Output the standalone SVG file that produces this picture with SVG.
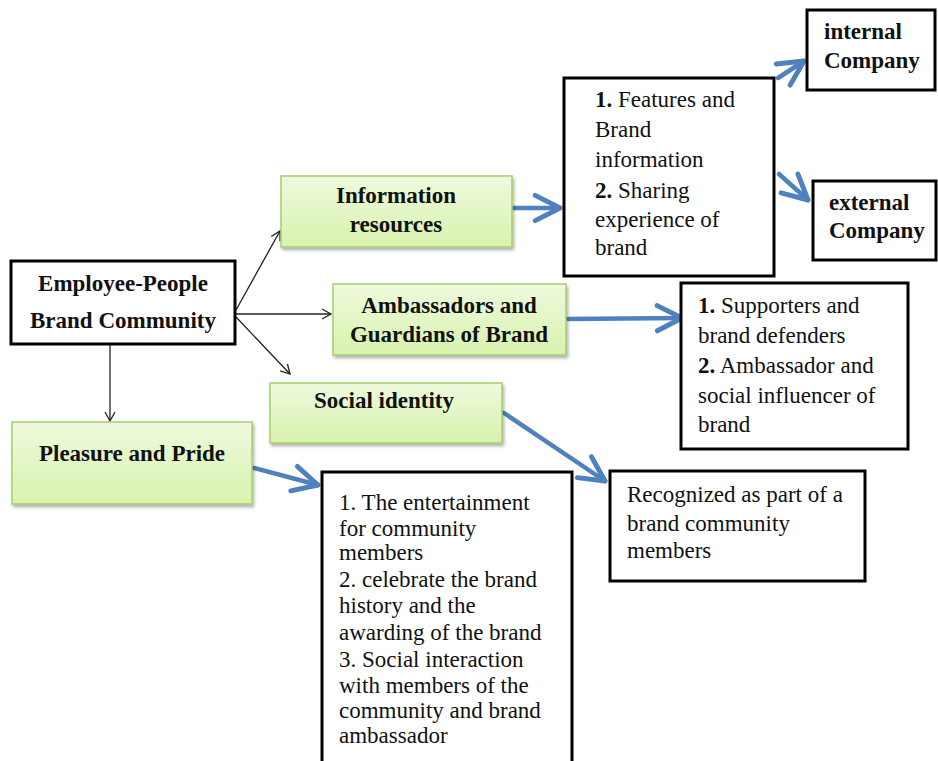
<svg xmlns="http://www.w3.org/2000/svg" width="938" height="761" viewBox="0 0 938 761">
<defs>
<linearGradient id="g" x1="0" y1="0" x2="0" y2="1">
<stop offset="0" stop-color="#eefadc"/>
<stop offset="1" stop-color="#d8f2ae"/>
</linearGradient>
<marker id="ah" markerWidth="12" markerHeight="12" refX="10" refY="6" orient="auto" markerUnits="userSpaceOnUse">
<path d="M1,1 L10,6 L1,11" fill="none" stroke="#222" stroke-width="1.3"/>
</marker>
<marker id="bh" markerWidth="8" markerHeight="8" refX="6.5" refY="4" orient="auto" markerUnits="strokeWidth">
<path d="M1,1.2 L6.5,4 L1,6.8" fill="none" stroke="#4f81bd" stroke-width="1.1" stroke-linecap="round" stroke-linejoin="round"/>
</marker>
<filter id="sh" x="-10%" y="-10%" width="120%" height="130%">
<feDropShadow dx="1.5" dy="2.5" stdDeviation="1.5" flood-color="#000" flood-opacity="0.3"/>
</filter>
</defs>
<style>
.gb{fill:url(#g);stroke:#a6cd6c;stroke-width:1.5;filter:url(#sh)}
.wb{fill:#fff;stroke:#000;stroke-width:3}
.t{font-family:"Liberation Serif","Times New Roman",serif;font-size:23px;fill:#111}
.b{font-weight:bold}
.c{text-anchor:middle}
.k{stroke:#222;stroke-width:1.3;fill:none;marker-end:url(#ah)}
.bl{stroke:#4f81bd;stroke-width:4.5;fill:none;marker-end:url(#bh);stroke-linecap:round}
</style>
<g id="connectors">
<line class="k" x1="236" y1="310" x2="280" y2="231"/>
<line class="k" x1="236" y1="314" x2="331" y2="314"/>
<line class="k" x1="236" y1="317" x2="290" y2="374"/>
<line class="k" x1="110" y1="345" x2="110" y2="421"/>
<line class="bl" x1="514" y1="208" x2="560" y2="208"/>
<line class="bl" x1="778" y1="78" x2="804" y2="61"/>
<line class="bl" x1="779" y1="174" x2="808" y2="200"/>
<line class="bl" x1="568" y1="319" x2="682" y2="318"/>
<line class="bl" x1="504" y1="413" x2="605" y2="481"/>
<line class="bl" x1="254" y1="468" x2="318" y2="485"/>
</g>
<g id="employee">
<rect class="wb" x="11" y="261" width="224" height="83"/>
<text class="t b c" x="123" y="291">Employee-People</text>
<text class="t b c" x="123" y="328">Brand Community</text>
</g>
<g id="pleasure">
<rect class="gb" x="12" y="422" width="240" height="82"/>
<text class="t b c" x="132" y="461">Pleasure and Pride</text>
</g>
<g id="info">
<rect class="gb" x="281" y="176" width="231" height="71"/>
<text class="t b c" x="396" y="203">Information</text>
<text class="t b c" x="396" y="232">resources</text>
</g>
<g id="ambassadors">
<rect class="gb" x="333" y="284" width="233" height="71"/>
<text class="t b c" x="449" y="313">Ambassadors and</text>
<text class="t b c" x="449" y="342">Guardians of Brand</text>
</g>
<g id="social">
<rect class="gb" x="270" y="383" width="232" height="60"/>
<text class="t b c" x="384" y="408">Social identity</text>
</g>
<g id="features">
<rect class="wb" x="564" y="78" width="210" height="198"/>
<text class="t" x="595" y="107"><tspan class="b">1.</tspan> Features and</text>
<text class="t" x="595" y="137">Brand</text>
<text class="t" x="595" y="167">information</text>
<text class="t" x="595" y="198"><tspan class="b">2.</tspan> Sharing</text>
<text class="t" x="595" y="227">experience of</text>
<text class="t" x="595" y="255">brand</text>
</g>
<g id="internal">
<rect class="wb" x="807" y="10" width="128" height="80"/>
<text class="t b" x="824" y="39">internal</text>
<text class="t b" x="824" y="68">Company</text>
</g>
<g id="external">
<rect class="wb" x="813" y="181" width="123" height="79"/>
<text class="t b" x="829" y="210">external</text>
<text class="t b" x="829" y="238">Company</text>
</g>
<g id="supporters">
<rect class="wb" x="681" y="283" width="227" height="166"/>
<text class="t" x="698" y="313"><tspan class="b">1.</tspan> Supporters and</text>
<text class="t" x="698" y="343">brand defenders</text>
<text class="t" x="698" y="373"><tspan class="b">2.</tspan> Ambassador and</text>
<text class="t" x="698" y="403">social influencer of</text>
<text class="t" x="698" y="432">brand</text>
</g>
<g id="recognized">
<rect class="wb" x="610" y="471" width="255" height="110"/>
<text class="t" x="627" y="502">Recognized as part of a</text>
<text class="t" x="627" y="531">brand community</text>
<text class="t" x="627" y="558">members</text>
</g>
<g id="entertainment">
<rect class="wb" x="322" y="472" width="250" height="300"/>
<text class="t" x="339" y="510">1. The entertainment</text>
<text class="t" x="339" y="536">for community</text>
<text class="t" x="339" y="560">members</text>
<text class="t" x="339" y="587">2. celebrate the brand</text>
<text class="t" x="339" y="613">history and the</text>
<text class="t" x="339" y="640">awarding of the brand</text>
<text class="t" x="339" y="667">3. Social interaction</text>
<text class="t" x="339" y="693">with members of the</text>
<text class="t" x="339" y="718">community and brand</text>
<text class="t" x="339" y="743">ambassador</text>
</g>
</svg>
